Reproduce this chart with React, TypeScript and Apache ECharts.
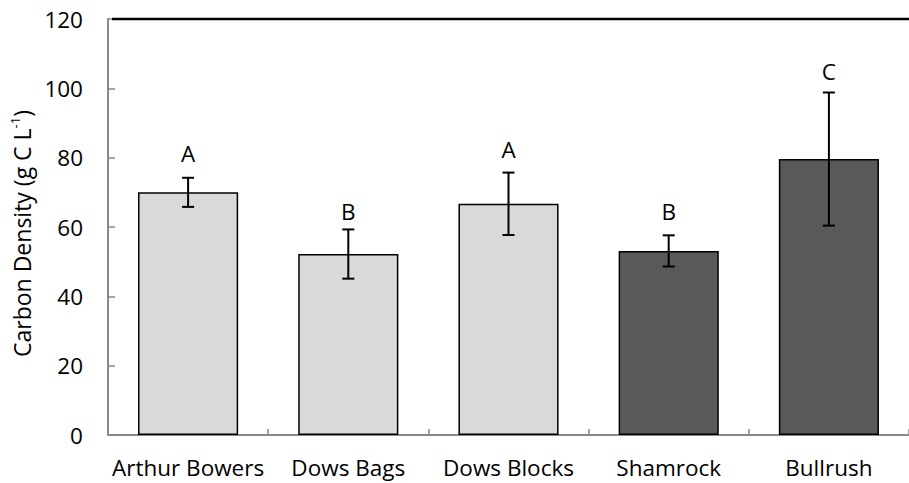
import React, { useEffect, useRef } from "react";
import * as echarts from "echarts";

const categories = ["Arthur Bowers", "Dows Bags", "Dows Blocks", "Shamrock", "Bullrush"];
const means = [70.0, 52.2, 66.7, 53.1, 79.6];
const errors = [4.2, 7.1, 9.0, 4.5, 19.2];
const letters = ["A", "B", "A", "B", "C"];
const letterY = [81.3, 64.4, 82.3, 64.5, 104.9];
const barColors = ["#d9d9d9", "#d9d9d9", "#d9d9d9", "#595959", "#595959"];
const yTicks = { min: 0, max: 120, interval: 20 };

const FONT = "'Open Sans'";
const FS = 22.5;

export default function App() {
  const ref = useRef<HTMLDivElement>(null);
  useEffect(() => {
    document.body.style.margin = "0";
    const chart = echarts.init(ref.current!, null, { renderer: "svg" });
    const errData = categories.map((_, i) => [i, means[i] - errors[i], means[i] + errors[i], letterY[i]]);
    chart.setOption({
      animation: false,
      grid: { left: 103, top: 19, width: 816, height: 416, containLabel: false },
      xAxis: {
        type: "category",
        data: categories,
        axisLine: { lineStyle: { color: "#898989", width: 2 } },
        axisTick: { show: true, inside: true, length: 6, alignWithLabel: false, lineStyle: { color: "#898989", width: 1.5 } },
        axisLabel: { color: "#000", fontFamily: FONT, fontSize: FS, margin: 21, interval: 0 },
        splitLine: { show: false },
      },
      yAxis: {
        type: "value",
        min: yTicks.min,
        max: yTicks.max,
        interval: yTicks.interval,
        name: "{t|Carbon Density (g C L}{s|-1}{t|)}",
        nameLocation: "middle",
        nameGap: 65,
        nameTextStyle: {
          padding: [0, 13, 0, 0],
          rich: {
            t: { fontFamily: FONT, fontSize: 23, color: "#000", lineHeight: 28 },
            s: { fontFamily: FONT, fontSize: 13, color: "#000", verticalAlign: "top", lineHeight: 28 },
          },
        },
        axisLine: { show: true, lineStyle: { color: "#898989", width: 2 } },
        axisTick: { show: true, inside: true, length: 7, lineStyle: { color: "#898989", width: 1.5 } },
        axisLabel: { color: "#000", fontFamily: FONT, fontSize: FS, margin: 25 },
        splitLine: { show: false },
      },
      graphic: [
        {
          type: "line",
          shape: { x1: 112, y1: 19, x2: 909, y2: 19 },
          style: { stroke: "#000", lineWidth: 2.5 },
          z: 10,
        },
      ],
      series: [
        {
          type: "bar",
          barWidth: "62.5%",
          data: means.map((v, i) => ({
            value: v,
            itemStyle: { color: barColors[i], borderColor: "#000", borderWidth: 1.5 },
          })),
        },
        {
          type: "custom",
          data: errData,
          z: 5,
          renderItem: (params: any, api: any) => {
            const x = api.value(0);
            const lo = api.coord([x, api.value(1)]);
            const hi = api.coord([x, api.value(2)]);
            const lt = api.coord([x, api.value(3)]);
            const cap = 6;
            const st = { stroke: "#000", lineWidth: 2 };
            return {
              type: "group",
              children: [
                { type: "line", shape: { x1: hi[0], y1: hi[1], x2: lo[0], y2: lo[1] }, style: st },
                { type: "line", shape: { x1: hi[0] - cap, y1: hi[1], x2: hi[0] + cap, y2: hi[1] }, style: st },
                { type: "line", shape: { x1: lo[0] - cap, y1: lo[1], x2: lo[0] + cap, y2: lo[1] }, style: st },
                {
                  type: "text",
                  x: lt[0],
                  y: lt[1],
                  style: {
                    text: letters[params.dataIndex],
                    fill: "#000",
                    font: `${FS}px ${FONT}`,
                    align: "center",
                    verticalAlign: "middle",
                  },
                },
              ],
            };
          },
        },
      ],
    });
    return () => chart.dispose();
  }, []);
  return <div ref={ref} style={{ width: 909, height: 483 }} />;
}
